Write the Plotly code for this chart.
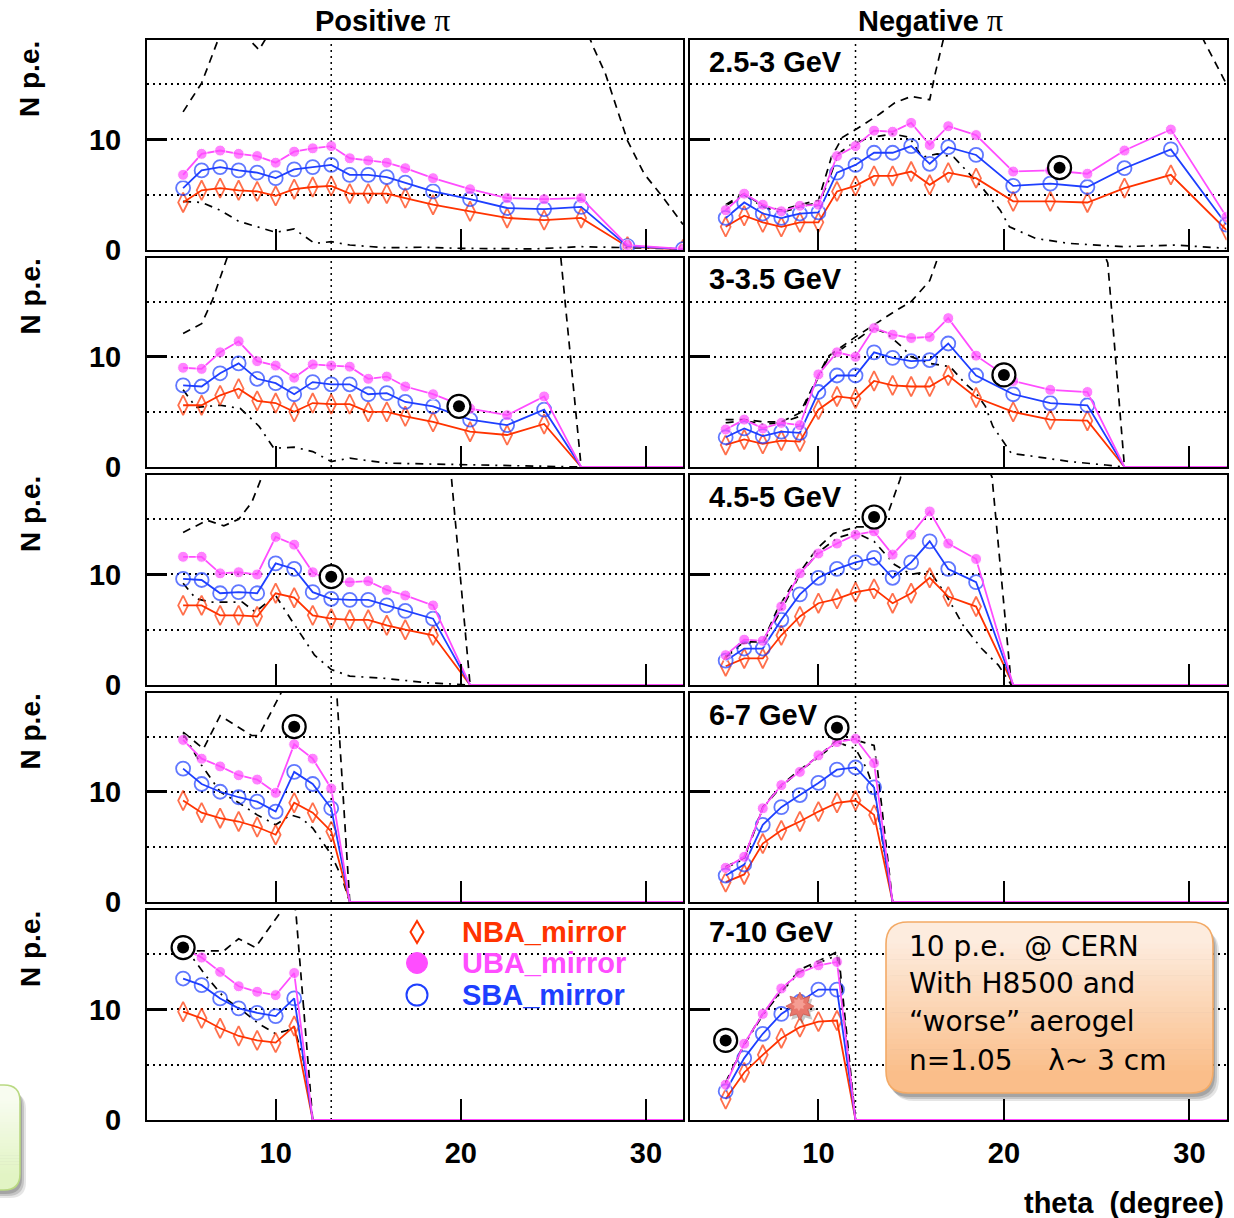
import math
import plotly.graph_objects as go

W, H = 1234, 1218
FONT = "Liberation Sans, Arial, Helvetica, sans-serif"
BOX_FONT = "DejaVu Sans, Verdana, sans-serif"

# ---------------------------------------------------------------- data
theta = [5, 6, 7, 8, 9, 10, 11, 12, 13, 14, 15, 16, 17, 18.5, 20.5, 22.5, 24.5, 26.5, 29, 32]

row_momentum = ["2.5-3 GeV", "3-3.5 GeV", "4.5-5 GeV", "6-7 GeV", "7-10 GeV"]
col_titles = ["Positive", "Negative"]
series_names = ["NBA_mirror", "UBA_mirror", "SBA_mirror"]

# UBA_mirror, positive pions, one list per momentum bin
uba_pos = [
    [6.8, 8.7, 9.0, 8.7, 8.5, 7.9, 8.9, 9.2, 9.4, 8.3, 8.1, 7.9, 7.4, 6.5, 5.5, 4.7, 4.6, 4.7, 0.45, 0.1],
    [9.0, 8.9, 10.4, 11.4, 9.6, 9.2, 8.1, 9.3, 9.2, 9.1, 8.0, 8.2, 7.3, 6.6, 5.3, 4.7, 6.4, 0, 0, 0],
    [11.6, 11.6, 10.1, 10.2, 10.0, 13.4, 12.7, 10.2, 9.4, 9.3, 9.4, 8.6, 8.1, 7.2, 0, 0, 0, 0, 0, 0],
    [14.7, 13.0, 12.3, 11.5, 11.1, 9.9, 14.3, 13.0, 10.3, 0, 0, 0, 0, 0, 0, 0, 0, 0, 0, 0],
    [15.5, 14.7, 13.4, 12.1, 11.6, 11.3, 13.3, 0, 0, 0, 0, 0, 0, 0, 0, 0, 0, 0, 0, 0],
]
sba_pos = [
    [5.6, 7.2, 7.5, 7.2, 7.0, 6.5, 7.3, 7.5, 7.7, 6.8, 6.8, 6.6, 6.1, 5.3, 4.6, 3.8, 3.7, 3.9, 0.35, 0.08],
    [7.4, 7.3, 8.5, 9.4, 8.0, 7.6, 6.6, 7.7, 7.5, 7.5, 6.6, 6.7, 5.9, 5.5, 4.3, 3.8, 5.2, 0, 0, 0],
    [9.6, 9.5, 8.3, 8.4, 8.3, 11.0, 10.5, 8.4, 7.8, 7.7, 7.7, 7.2, 6.7, 6.0, 0, 0, 0, 0, 0, 0],
    [12.1, 10.7, 10.0, 9.5, 9.1, 8.2, 11.8, 10.7, 8.5, 0, 0, 0, 0, 0, 0, 0, 0, 0, 0, 0],
    [12.8, 12.2, 11.0, 10.1, 9.7, 9.4, 11.0, 0, 0, 0, 0, 0, 0, 0, 0, 0, 0, 0, 0, 0],
]
nba_pos = [
    [4.3, 5.4, 5.6, 5.4, 5.3, 4.9, 5.5, 5.7, 5.8, 5.1, 5.1, 5.1, 4.7, 4.1, 3.5, 2.9, 2.7, 2.9, 0.3, 0.05],
    [5.6, 5.6, 6.5, 7.1, 6.0, 5.8, 5.0, 5.8, 5.7, 5.7, 5.0, 5.0, 4.6, 4.1, 3.2, 2.9, 3.9, 0, 0, 0],
    [7.2, 7.2, 6.3, 6.3, 6.2, 8.3, 7.9, 6.3, 6.0, 5.9, 5.9, 5.4, 5.0, 4.5, 0, 0, 0, 0, 0, 0],
    [9.2, 8.1, 7.6, 7.3, 6.8, 6.1, 9.0, 8.1, 6.4, 0, 0, 0, 0, 0, 0, 0, 0, 0, 0, 0],
    [9.8, 9.2, 8.3, 7.6, 7.2, 7.0, 8.5, 0, 0, 0, 0, 0, 0, 0, 0, 0, 0, 0, 0, 0],
]

# negative pions
uba_neg = [
    [3.6, 5.1, 4.1, 3.5, 4.0, 4.1, 8.5, 9.4, 10.8, 10.7, 11.5, 9.5, 11.2, 10.4, 7.1, 7.2, 6.9, 9.0, 10.9, 3.0],
    [3.4, 4.3, 3.5, 4.0, 3.8, 8.4, 10.4, 10.0, 12.6, 12.0, 11.7, 11.8, 13.5, 10.1, 7.8, 7.0, 6.8, 0, 0, 0],
    [2.7, 4.1, 4.0, 7.1, 10.1, 11.9, 12.8, 13.6, 13.9, 11.8, 13.6, 15.7, 12.8, 11.4, 0, 0, 0, 0, 0, 0],
    [3.1, 4.1, 8.5, 10.6, 11.8, 13.3, 14.5, 14.8, 12.6, 0, 0, 0, 0, 0, 0, 0, 0, 0, 0, 0],
    [3.2, 6.9, 9.6, 11.9, 13.3, 14.0, 14.3, 0, 0, 0, 0, 0, 0, 0, 0, 0, 0, 0, 0, 0],
]
sba_neg = [
    [2.9, 4.3, 3.3, 2.9, 3.3, 3.4, 7.0, 7.7, 8.8, 8.8, 9.4, 7.8, 9.3, 8.6, 5.8, 6.0, 5.7, 7.4, 9.1, 2.3],
    [2.7, 3.5, 2.8, 3.2, 3.1, 6.8, 8.3, 8.3, 10.4, 9.9, 9.6, 9.7, 11.2, 8.3, 6.6, 5.8, 5.6, 0, 0, 0],
    [2.2, 3.3, 3.3, 5.9, 8.2, 9.7, 10.5, 11.1, 11.5, 9.7, 11.1, 13.0, 10.5, 9.3, 0, 0, 0, 0, 0, 0],
    [2.4, 3.4, 7.0, 8.6, 9.7, 10.8, 12.0, 12.2, 10.4, 0, 0, 0, 0, 0, 0, 0, 0, 0, 0, 0],
    [2.6, 5.6, 7.8, 9.6, 10.7, 11.8, 11.8, 0, 0, 0, 0, 0, 0, 0, 0, 0, 0, 0, 0, 0],
]
nba_neg = [
    [2.1, 3.1, 2.5, 2.1, 2.5, 2.5, 5.3, 5.8, 6.7, 6.7, 7.1, 5.9, 7.0, 6.5, 4.4, 4.4, 4.3, 5.6, 6.8, 1.8],
    [2.0, 2.5, 2.1, 2.4, 2.3, 5.2, 6.4, 6.2, 7.8, 7.4, 7.3, 7.3, 8.3, 6.3, 5.0, 4.3, 4.2, 0, 0, 0],
    [1.7, 2.4, 2.4, 4.5, 6.2, 7.4, 7.8, 8.4, 8.7, 7.4, 8.3, 9.7, 8.0, 7.1, 0, 0, 0, 0, 0, 0],
    [1.8, 2.5, 5.3, 6.5, 7.3, 8.2, 9.0, 9.2, 7.9, 0, 0, 0, 0, 0, 0, 0, 0, 0, 0, 0],
    [1.9, 4.3, 5.9, 7.4, 8.4, 8.9, 9.0, 0, 0, 0, 0, 0, 0, 0, 0, 0, 0, 0, 0, 0],
]

# expected-yield envelopes (theta list, value list), panels ordered row by row, left then right
dash_curves = [
    ([5, 6, 7, 8, 8.6, 9.1, 9.6, 10.5, 15, 22, 26.5, 27.2, 27.8, 28.4, 29, 29.9, 30.9, 31.7, 32],
     [12.5, 15.1, 19.5, 21, 19, 18.1, 19.5, 22, 25, 25, 21, 18.2, 16.0, 13.0, 9.9, 6.9, 4.8, 3.0, 2.3]),
    ([5, 6, 7, 8, 9, 10, 10.7, 11.3, 12.2, 13.3, 14.1, 15, 16, 16.3, 16.8, 17.5, 30, 30.76, 32],
     [4.1, 5.1, 4.0, 3.6, 4.1, 4.5, 8.4, 10.2, 11.1, 12.3, 13.3, 13.9, 13.6, 16, 19.5, 22, 22, 19, 15]),
    ([5, 6, 6.6, 7.3, 7.6, 8, 25, 25.4, 26.5, 32],
     [12.1, 13.0, 15.2, 18.5, 20, 22, 22, 19, 0, 0]),
    ([5, 6, 7, 8, 9, 9.6, 10.5, 12, 13.1, 14.1, 15, 16, 16.4, 17, 25, 25.6, 26.5, 32],
     [4.3, 4.3, 4.1, 4.1, 4.9, 7.0, 10.0, 11.8, 13.0, 14.1, 15.0, 16.9, 18.8, 21, 21, 18.5, 0, 0]),
    ([5, 6.3, 7.2, 8, 8.7, 9.2, 9.6, 19, 19.5, 20.5, 32],
     [13.8, 14.9, 14.4, 15.0, 16.5, 18.6, 21, 21, 18.6, 0, 0]),
    ([5, 6, 7, 7.8, 9, 9.9, 10.8, 12, 13.2, 13.7, 14.4, 14.8, 18.8, 19.36, 20.4, 32],
     [2.6, 3.9, 3.9, 6.9, 10.2, 12.3, 13.7, 14.3, 14.3, 15.3, 18.6, 21, 21, 18.8, 0, 0]),
    ([5, 6.1, 7, 8.7, 9.1, 10.3, 10.6, 13, 13.3, 14, 32],
     [15.4, 13.9, 16.9, 15.1, 15.1, 19.0, 21, 21, 18.9, 0, 0]),
    ([5, 6, 7, 8, 9, 10, 11, 12, 13, 13.2, 14, 32],
     [3.2, 4.0, 8.6, 10.6, 12.0, 13.2, 14.7, 14.7, 14.2, 11.8, 0, 0]),
    ([5, 5.5, 7.2, 8, 8.9, 10.3, 10.6, 10.9, 11.1, 12, 32],
     [15.5, 15.3, 15.3, 16.4, 15.6, 18.9, 21, 21, 18.6, 0, 0]),
    ([5, 6, 7, 8, 9, 10, 11, 11.1, 12, 32],
     [3.4, 6.9, 9.6, 11.7, 13.6, 14.4, 15.2, 14.8, 0, 0]),
]
dashdot_curves = [
    ([5, 6, 7, 8, 9, 10, 11, 11.6, 12.1, 13, 14, 16, 18, 20, 24, 26.5, 29, 32],
     [4.4, 4.3, 3.6, 2.6, 2.1, 1.6, 1.9, 1.2, 0.6, 0.75, 0.45, 0.2, 0.25, 0.15, 0.1, 0.3, 0.2, 0.1]),
    ([5, 6, 7, 8, 9, 10, 10.5, 11.06, 11.8, 12.9, 14.0, 14.9, 15.6, 16.4, 17.3, 18.8, 19.8, 20.3, 21.7, 23.5, 26.4, 29.2, 32],
     [4.0, 5.0, 3.9, 3.4, 3.9, 4.3, 6.0, 8.7, 9.6, 10.2, 10.5, 10.2, 8.4, 8.7, 8.4, 5.7, 3.6, 2.1, 1.05, 0.6, 0.3, 0.45, 0.15]),
    ([5, 5.7, 7, 8.1, 9.1, 9.9, 11, 12, 13, 14, 16, 19.7, 23.5, 26.5, 32],
     [7.0, 5.4, 5.6, 5.3, 3.7, 1.7, 1.8, 1.4, 0.5, 0.8, 0.35, 0.2, 0.1, 0, 0]),
    ([5, 6, 7, 8, 9, 9.6, 10.5, 11.5, 12.2, 12.95, 13.7, 14.5, 15, 16, 17.1, 17.9, 18.5, 19.0, 19.4, 19.96, 20.4, 21.7, 23.6, 25.5, 26.5, 32],
     [4.0, 4.2, 3.9, 4.0, 4.6, 6.8, 9.8, 11.0, 11.7, 12.6, 12.1, 10.9, 10.0, 9.4, 9.1, 7.6, 6.7, 5.5, 3.7, 2.3, 1.24, 0.94, 0.48, 0.18, 0, 0]),
    ([5, 5.7, 6.5, 8.2, 8.9, 10, 10.8, 11.4, 12.1, 13, 14, 15.9, 18.2, 20.5, 32],
     [9.2, 7.8, 7.5, 7.5, 6.6, 8.1, 6.0, 4.5, 2.7, 1.4, 0.8, 0.6, 0.2, 0, 0]),
    ([5, 6, 7, 8, 9, 10, 11, 12, 13, 14.1, 15, 16, 16.9, 17.8, 18.8, 19.7, 20.4, 32],
     [2.5, 3.8, 3.8, 6.8, 10.0, 12.0, 13.3, 13.8, 13.0, 10.9, 10.0, 10.3, 8.1, 5.4, 3.3, 1.8, 0, 0]),
    ([5, 6, 7, 8, 9, 10, 10.8, 11.4, 12, 12.5, 13, 13.6, 14, 32],
     [15.3, 12.4, 10.0, 9.0, 7.9, 7.0, 7.9, 7.6, 6.7, 5.5, 4.3, 2.1, 0, 0]),
    ([5, 6, 7, 8, 9, 10, 11, 12, 12.6, 13, 14, 32],
     [3.1, 3.9, 8.5, 10.5, 11.9, 13.1, 14.5, 13.9, 12.1, 10.2, 0, 0]),
    ([5, 5.5, 6.3, 7.2, 8.2, 9.1, 10, 10.6, 11, 11.6, 12, 32],
     [15.4, 14.7, 12.9, 11.1, 9.9, 8.7, 7.8, 8.1, 8.4, 4.8, 0, 0]),
    ([5, 6, 7, 8, 9, 10, 11, 12, 32],
     [3.3, 6.8, 9.5, 11.6, 13.4, 14.2, 14.9, 0, 0]),
]

# highlighted reference measurements (theta, N p.e.) per panel
ring_marks = [None, (23.0, 7.45), (19.9, 5.5), (20.0, 8.35), (13.0, 9.8),
              (13.0, 15.2), (11.0, 15.9), (11.0, 15.8), (5.0, 15.6), (5.0, 7.2)]
star_mark = (9.0, 10.3)          # 7-10 GeV, negative
cut_theta = [13, 12]             # dotted acceptance line, left / right column

x_ticks = [10, 20, 30]
x_range = [3.05, 32.0]
y_range = [0, 19]

# ---------------------------------------------------------------- styles
NBA_C = "#ff3300"
UBA_C = "#ff4dff"
SBA_C = "#1e3fff"
DOT = "2px,4px"
LW = 1.8

col_px = [(147, 683), (689.5, 1226.5)]
row_px = [(40, 250), (257.5, 467), (475, 685), (692.5, 902), (910, 1120)]


def px(x):
    return x / W


def py(y):
    return 1 - y / H


def P(x, y):
    return f"{px(x):.5f},{py(y):.5f}"


def rrect(x0, y0, x1, y1, rtl, rtr, rbr, rbl):
    """Rounded rectangle path in paper coords from pixel corners."""
    return (f"M {P(x0 + rtl, y0)} L {P(x1 - rtr, y0)} Q {P(x1, y0)} {P(x1, y0 + rtr)} "
            f"L {P(x1, y1 - rbr)} Q {P(x1, y1)} {P(x1 - rbr, y1)} "
            f"L {P(x0 + rbl, y1)} Q {P(x0, y1)} {P(x0, y1 - rbl)} "
            f"L {P(x0, y0 + rtl)} Q {P(x0, y0)} {P(x0 + rtl, y0)} Z")


def gradient_box(shapes, x0, y0, x1, y1, r, top_rgb, bot_rgb, border, nb=24):
    for dx, dy, a in [(6, 8, 0.10), (4, 6, 0.14), (2, 4, 0.16)]:
        shapes.append(dict(type="path", xref="paper", yref="paper",
                           path=rrect(x0 + dx, y0 + dy, x1 + dx, y1 + dy, r, r, r, r),
                           fillcolor=f"rgba(0,0,0,{a})", line=dict(width=0), layer="above"))
    edges = [y0, y0 + r] + [y0 + r + (y1 - y0 - 2 * r) * (i + 1) / nb for i in range(nb)] + [y1]
    n = len(edges) - 1
    for i in range(n):
        t = i / (n - 1)
        c = tuple(int(round(top_rgb[j] + (bot_rgb[j] - top_rgb[j]) * t)) for j in range(3))
        ya, yb = edges[i], edges[i + 1]
        rt = r if i == 0 else 0
        rb = r if i == n - 1 else 0
        shapes.append(dict(type="path", xref="paper", yref="paper",
                           path=rrect(x0, ya - (0 if i == 0 else 0.6), x1, yb, rt, rt, rb, rb),
                           fillcolor=f"rgb{c}", line=dict(width=0), layer="above"))
    shapes.append(dict(type="path", xref="paper", yref="paper",
                       path=rrect(x0, y0, x1, y1, r, r, r, r),
                       fillcolor="rgba(0,0,0,0)", line=dict(color=border, width=1.6), layer="above"))


def star_path(n, ro, ri, dx=0.0, dy=0.0):
    pts = []
    for i in range(2 * n):
        a = math.pi / 2 + i * math.pi / n
        rr = ro if i % 2 == 0 else ri
        pts.append((dx + rr * math.cos(a), dy + rr * math.sin(a)))
    return "M " + " L ".join(f"{x:.2f},{y:.2f}" for x, y in pts) + " Z"


fig = go.Figure()
shapes = []
annotations = []


def ids(k):
    return ("x" if k == 0 else f"x{k + 1}", "y" if k == 0 else f"y{k + 1}")


def sizes(vals, s):
    return [s if v > 0 else 0 for v in vals]


for row in range(5):
    for col in range(2):
        k = 2 * row + col
        xid, yid = ids(k)
        (cx0, cx1), (ry0, ry1) = col_px[col], row_px[row]

        axis_font = dict(family=FONT, size=29, color="black", weight="bold")
        fig.layout["xaxis" if k == 0 else f"xaxis{k + 1}"] = dict(
            domain=[px(cx0), px(cx1)], range=x_range, anchor=yid,
            tickmode="array", tickvals=x_ticks, ticks="inside", ticklen=21, tickwidth=2,
            tickcolor="black", showline=True, linewidth=2, linecolor="black", mirror=True,
            showgrid=False, zeroline=False, showticklabels=(row == 4),
            tickfont=axis_font, ticklabelstandoff=6)
        fig.layout["yaxis" if k == 0 else f"yaxis{k + 1}"] = dict(
            domain=[py(ry1), py(ry0)], range=y_range, anchor=xid,
            tickmode="linear", tick0=0, dtick=10, ticks="inside", ticklen=20, tickwidth=2.5,
            tickcolor="black", showline=True, linewidth=2, linecolor="black", mirror=True,
            showgrid=True, gridcolor="black", gridwidth=1.5, griddash=DOT,
            minor=dict(dtick=5, showgrid=True, gridcolor="black", gridwidth=1.5,
                       griddash=DOT, ticks=""),
            zeroline=False, showticklabels=(col == 0),
            tickfont=axis_font, ticklabelstandoff=18)

        uba = (uba_pos if col == 0 else uba_neg)[row]
        sba = (sba_pos if col == 0 else sba_neg)[row]
        nba = (nba_pos if col == 0 else nba_neg)[row]

        dt, dv = dash_curves[k]
        fig.add_trace(go.Scatter(x=dt, y=dv, mode="lines", xaxis=xid, yaxis=yid,
                                 line=dict(color="black", width=1.7, dash="8px,6px"),
                                 showlegend=False, hoverinfo="skip"))
        ct, cv = dashdot_curves[k]
        fig.add_trace(go.Scatter(x=ct, y=cv, mode="lines", xaxis=xid, yaxis=yid,
                                 line=dict(color="black", width=1.7, dash="8px,6px,2px,6px"),
                                 showlegend=False, hoverinfo="skip"))

        fig.add_trace(go.Scatter(x=theta, y=nba, mode="lines+markers", xaxis=xid, yaxis=yid,
                                 name=series_names[0], line=dict(color=NBA_C, width=LW),
                                 marker=dict(symbol="diamond-tall-open", size=sizes(nba, 14),
                                             color=NBA_C, line=dict(width=LW, color=NBA_C)),
                                 showlegend=False))
        fig.add_trace(go.Scatter(x=theta, y=sba, mode="lines+markers", xaxis=xid, yaxis=yid,
                                 name=series_names[2], line=dict(color=SBA_C, width=LW),
                                 marker=dict(symbol="circle-open", size=sizes(sba, 14),
                                             color=SBA_C, line=dict(width=LW, color=SBA_C)),
                                 showlegend=False))
        fig.add_trace(go.Scatter(x=theta, y=uba, mode="lines+markers", xaxis=xid, yaxis=yid,
                                 name=series_names[1], line=dict(color=UBA_C, width=LW),
                                 marker=dict(symbol="circle", size=sizes(uba, 11), color=UBA_C),
                                 showlegend=False))

        if ring_marks[k] is not None:
            rx, ry = ring_marks[k]
            fig.add_trace(go.Scatter(x=[rx], y=[ry], mode="markers", xaxis=xid, yaxis=yid,
                                     marker=dict(symbol="circle", size=23, color="white",
                                                 line=dict(color="black", width=2.2)),
                                     showlegend=False, hoverinfo="skip"))
            fig.add_trace(go.Scatter(x=[rx], y=[ry], mode="markers", xaxis=xid, yaxis=yid,
                                     marker=dict(symbol="circle", size=12, color="black"),
                                     showlegend=False, hoverinfo="skip"))

        shapes.append(dict(type="line", xref=xid, yref=f"{yid} domain",
                           x0=cut_theta[col], x1=cut_theta[col], y0=0, y1=1,
                           line=dict(color="black", width=1.5, dash=DOT), layer="below"))

        if col == 0:
            annotations.append(dict(text="<b>N p.e.</b>", x=px(30), y=py(ry0 + 39),
                                    xref="paper", yref="paper", showarrow=False, textangle=-90,
                                    font=dict(family=FONT, size=28, color="black"),
                                    xanchor="center", yanchor="middle"))
        else:
            annotations.append(dict(text=f"<b>{row_momentum[row]}</b>", x=px(707), y=py(ry0 + 22),
                                    xref="paper", yref="paper", showarrow=False,
                                    font=dict(family=FONT, size=29, color="black"),
                                    xanchor="left", yanchor="middle"))

# column titles
for col, cx in enumerate([382, 930]):
    annotations.append(dict(
        text=(f"<b>{col_titles[col]}</b> "
              "<span style='font-family:Liberation Serif,serif;font-size:32px'>π</span>"),
        x=px(cx), y=py(20), xref="paper", yref="paper", showarrow=False,
        font=dict(family=FONT, size=29, color="black"), xanchor="center", yanchor="middle"))

annotations.append(dict(text="<b>theta  (degree)</b>", x=px(1226), y=py(1203), xref="paper",
                        yref="paper", showarrow=False, xanchor="right", yanchor="middle",
                        font=dict(family=FONT, size=29, color="black")))

# legend block inside the lower-left panel
key_x, text_x = 417, 460
for (name, color), yc in zip([(series_names[0], NBA_C), (series_names[1], UBA_C),
                              (series_names[2], SBA_C)], [932, 963, 995]):
    annotations.append(dict(text=f"<b>{name}</b>", x=px(text_x), y=py(yc), xref="paper",
                            yref="paper", showarrow=False, xanchor="left", yanchor="middle",
                            font=dict(family=FONT, size=29, color=color)))
# NBA key: tall open diamond
shapes.append(dict(type="path", xref="paper", yref="paper",
                   path=(f"M {P(key_x, 932 - 11)} L {P(key_x + 6.5, 932)} L {P(key_x, 932 + 11)} "
                         f"L {P(key_x - 6.5, 932)} Z"),
                   fillcolor="rgba(0,0,0,0)", line=dict(color=NBA_C, width=2), layer="above"))
# UBA key: filled circle
shapes.append(dict(type="circle", xref="paper", yref="paper",
                   x0=px(key_x - 10.5), x1=px(key_x + 10.5), y0=py(963 + 10.5), y1=py(963 - 10.5),
                   fillcolor=UBA_C, line=dict(color=UBA_C, width=1), layer="above"))
# SBA key: open circle
shapes.append(dict(type="circle", xref="paper", yref="paper",
                   x0=px(key_x - 10.5), x1=px(key_x + 10.5), y0=py(995 + 10.5), y1=py(995 - 10.5),
                   fillcolor="rgba(0,0,0,0)", line=dict(color=SBA_C, width=2), layer="above"))

# side note boxes
gradient_box(shapes, -24, 1085, 20, 1190, 16, (248, 252, 240), (226, 244, 196), "#b9d982")
gradient_box(shapes, 886, 922, 1213, 1093, 22, (253, 236, 222), (250, 190, 138), "#f3aa66")

for txt, yc in [("10 p.e.  @ CERN", 946), ("With H8500 and", 983),
                ("\u201cworse\u201d aerogel", 1021), ("n=1.05    \u03bb~ 3 cm", 1060)]:
    annotations.append(dict(text=txt, x=px(907), y=py(yc), xref="paper", yref="paper",
                            showarrow=False, xanchor="left", yanchor="middle",
                            font=dict(family=BOX_FONT, size=28, color="black")))

# burst marker on the 7-10 GeV panel
sx, sy = star_mark
for path, fill, line in [(star_path(8, 15, 9, 2, -3), "rgba(0,0,0,0.22)", None),
                         (star_path(8, 14, 8.5), "#e8766b", "#c9574c"),
                         (star_path(8, 7, 4.5, -1, 2), "rgba(255,190,180,0.55)", None)]:
    shapes.append(dict(type="path", xref="x10", yref="y10", xsizemode="pixel",
                       ysizemode="pixel", xanchor=sx, yanchor=sy, path=path, fillcolor=fill,
                       line=dict(width=0.8 if line else 0, color=line or fill), layer="above"))

fig.update_layout(
    width=W, height=H, margin=dict(l=0, r=0, t=0, b=0, autoexpand=False),
    paper_bgcolor="white", plot_bgcolor="white",
    shapes=shapes, annotations=annotations, showlegend=False,
)

fig.write_html("out.html")
